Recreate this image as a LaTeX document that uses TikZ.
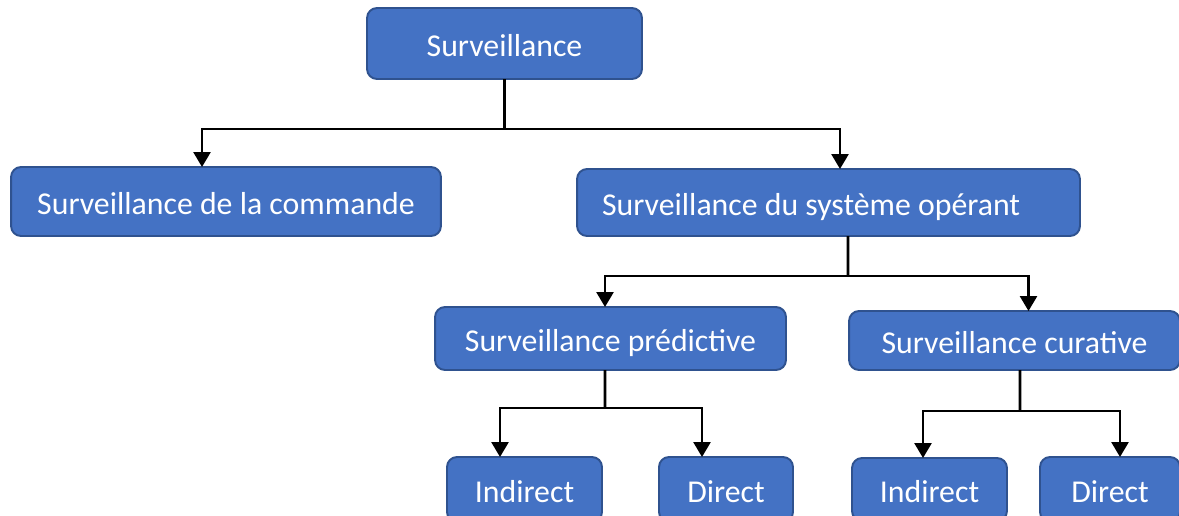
\documentclass[tikz,border=0pt]{standalone}
\usepackage{fontspec}
\setmainfont{Carlito}
\usepackage{tikz}
\usetikzlibrary{arrows.meta}

\definecolor{boxblue}{HTML}{4472C4}
\definecolor{boxedge}{HTML}{2F528F}

\begin{document}
\begin{tikzpicture}[x=0.02cm, y=-0.02cm,
    bloc/.style={draw=boxedge, line width=1.1pt, fill=boxblue, rounded corners=0.2cm,
        text=white, font=\fontsize{18.1}{21}\selectfont, text height=0.5cm, text depth=0cm,
        inner sep=0pt, outer sep=0pt},
    trait/.style={line width=1.5pt, black},
    fleche/.style={trait, -{Triangle[length=0.3cm,width=0.34cm]}}]
\clip (0,0) rectangle (1179,515);
\node[bloc, minimum width=5.5cm, minimum height=1.42cm] (top) at (504.5,43.5) {Surveillance};
\node[bloc, minimum width=8.6cm, minimum height=1.38cm] (cmd) at (226,201.5) {Surveillance de la commande};
\node[bloc, minimum width=10.06cm, minimum height=1.34cm, text width=9.06cm, align=flush left, inner xsep=0.5cm] (oper) at (828.5,202.5) {Surveillance du système opérant};
\node[bloc, minimum width=7.02cm, minimum height=1.26cm] (pred) at (610.5,338.5) {Surveillance prédictive};
\node[bloc, minimum width=6.62cm, minimum height=1.18cm] (cur) at (1014.5,340.5) {Surveillance curative};
\node[bloc, minimum width=3.1cm, minimum height=1.3cm] (ind1) at (524.5,489.5) {Indirect};
\node[bloc, minimum width=2.68cm, minimum height=1.3cm] (dir1) at (726,489.5) {Direct};
\node[bloc, minimum width=3.1cm, minimum height=1.26cm] (ind2) at (929.5,489.5) {Indirect};
\node[bloc, minimum width=2.8cm, minimum height=1.3cm] (dir2) at (1110,489.5) {Direct};

\coordinate (b1) at (504.5,129);
\draw[trait] (top) -- (b1);
\draw[fleche] (b1) -| ([xshift=-0.48cm]cmd.north);
\draw[fleche] (b1) -| ([xshift=0.23cm]oper.north);

\coordinate (b2) at (848,276);
\draw[trait] ([xshift=0.39cm]oper.south) -- (b2);
\draw[fleche] (b2) -| ([xshift=-0.11cm]pred.north);
\draw[fleche] (b2) -| ([xshift=0.28cm]cur.north);

\coordinate (b3) at (605,408);
\draw[trait] ([xshift=-0.11cm]pred.south) -- (b3);
\draw[fleche] (b3) -| ([xshift=-0.49cm]ind1.north);
\draw[fleche] (b3) -| ([xshift=-0.48cm]dir1.north);

\coordinate (b4) at (1020,411);
\draw[trait] ([xshift=0.11cm]cur.south) -- (b4);
\draw[fleche] (b4) -| ([xshift=-0.13cm]ind2.north);
\draw[fleche] (b4) -| ([xshift=0.2cm]dir2.north);
\end{tikzpicture}
\end{document}
